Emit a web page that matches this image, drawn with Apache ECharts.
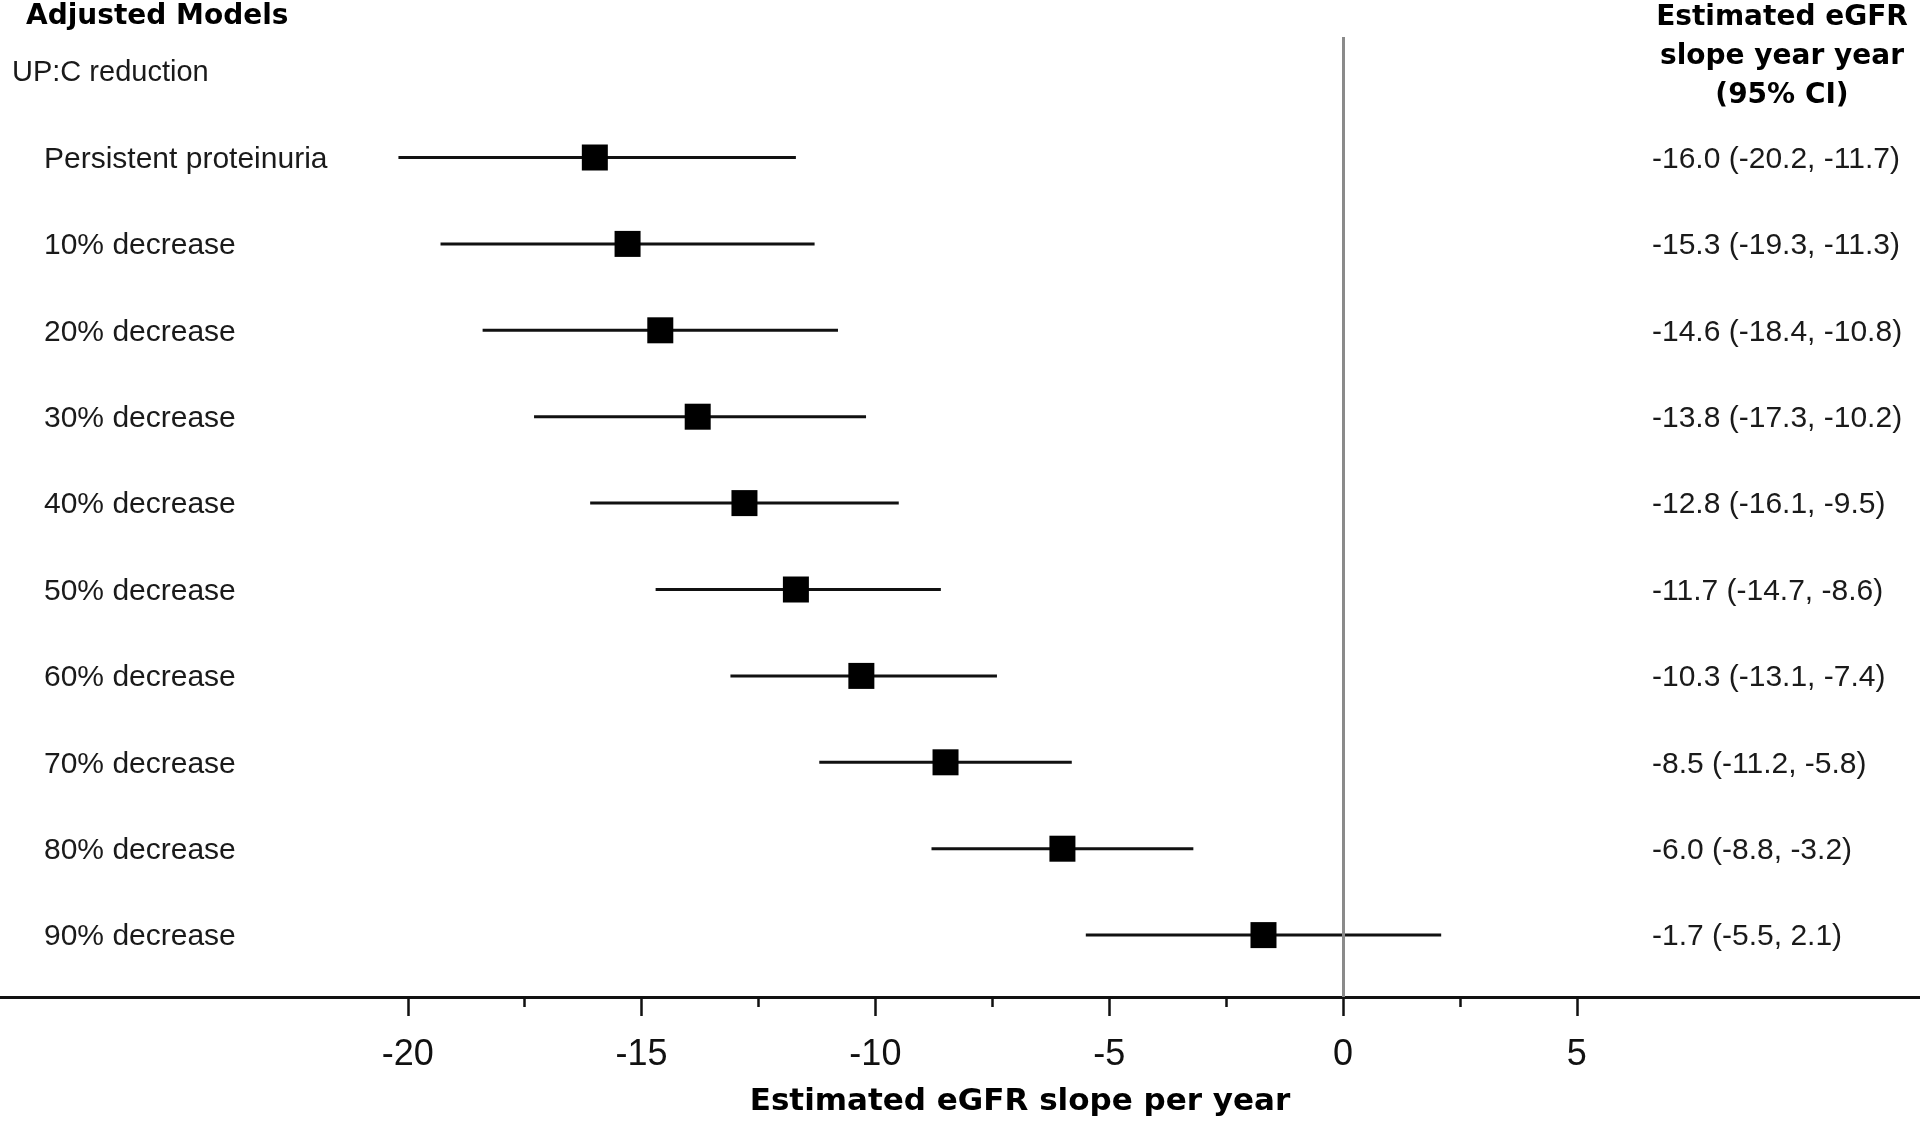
<!DOCTYPE html>
<html>
<head>
<meta charset="utf-8">
<script src="https://cdn.jsdelivr.net/npm/echarts@6/dist/echarts.min.js"></script>
<style>
html,body{margin:0;padding:0;background:#fff;}
#chart{width:1920px;height:1122px;}
</style>
</head>
<body>
<div id="chart"></div>
<script>
// ---- data ----
var categories = ['Persistent proteinuria','10% decrease','20% decrease','30% decrease','40% decrease','50% decrease','60% decrease','70% decrease','80% decrease','90% decrease'];
var estimate = [-16.0,-15.3,-14.6,-13.8,-12.8,-11.7,-10.3,-8.5,-6.0,-1.7];
var lower    = [-20.2,-19.3,-18.4,-17.3,-16.1,-14.7,-13.1,-11.2,-8.8,-5.5];
var upper    = [-11.7,-11.3,-10.8,-10.2,-9.5,-8.6,-7.4,-5.8,-3.2,2.1];
var majorTicks = [-20,-15,-10,-5,0,5];
var minorTicks = [-17.5,-12.5,-7.5,-2.5,2.5];

var REG = "'Liberation Sans', Arial, sans-serif";
var BOLD = "'DejaVu Sans', sans-serif";

function fmt(v){ return v.toFixed(1); }

var ciData = categories.map(function(c,i){ return [lower[i], upper[i], i]; });
var ptData = categories.map(function(c,i){ return [estimate[i], i]; });
var txtData = categories.map(function(c,i){ return [estimate[i], i]; });

var chart = echarts.init(document.getElementById('chart'), null, {renderer:'canvas'});
var option = {
  backgroundColor:'#fff',
  animation:false,
  grid:{left:0, right:0, top:37, bottom:125, containLabel:false},
  xAxis:[{
    type:'value', min:-28.721, max:12.34, position:'bottom',
    splitLine:{show:false},
    axisLine:{show:true, onZero:false, lineStyle:{color:'#111', width:3}},
    axisTick:{show:true, customValues:majorTicks, length:19, lineStyle:{color:'#111', width:2.5}},
    axisLabel:{show:true, customValues:majorTicks, margin:40, fontSize:36, color:'#111', fontFamily:REG}
  },{
    type:'value', min:-28.721, max:12.34, position:'bottom', gridIndex:0,
    splitLine:{show:false},
    axisLine:{show:false, onZero:false},
    axisTick:{show:true, customValues:minorTicks, length:10, lineStyle:{color:'#111', width:2.5}},
    axisLabel:{show:false}
  }],
  yAxis:{type:'value', inverse:true, min:-1.3947, max:9.7164, show:false, splitLine:{show:false}},
  graphic:[
    {type:'text', left:26, top:3, style:{text:'Adjusted Models', font:'bold 28px '+BOLD, fill:'#000'}},
    {type:'text', x:12, y:73, style:{text:'UP:C reduction', font:'29px '+REG, fill:'#1a1a1a', verticalAlign:'middle', align:'left'}},
    {type:'text', x:1782, y:17.5, style:{text:'Estimated eGFR', font:'bold 28px '+BOLD, fill:'#000', align:'center', verticalAlign:'middle'}},
    {type:'text', x:1782, y:57, style:{text:'slope year year', font:'bold 28px '+BOLD, fill:'#000', align:'center', verticalAlign:'middle'}},
    {type:'text', x:1782, y:96, style:{text:'(95% CI)', font:'bold 28px '+BOLD, fill:'#000', align:'center', verticalAlign:'middle'}},
    {type:'text', x:1020, y:1102, style:{text:'Estimated eGFR slope per year', font:'bold 31px '+BOLD, fill:'#000', align:'center', verticalAlign:'middle'}}
  ],
  series:[
    {
      type:'custom', name:'CI', data:ciData, z:2,
      renderItem:function(params, api){
        var a = api.coord([api.value(0), api.value(2)]);
        var b = api.coord([api.value(1), api.value(2)]);
        return {type:'line', shape:{x1:a[0], y1:a[1], x2:b[0], y2:b[1]}, style:{stroke:'#111', lineWidth:3}};
      },
      markLine:{
        silent:true, symbol:'none', animation:false,
        label:{show:false},
        lineStyle:{color:'#8a8a8a', width:3, type:'solid'},
        data:[{xAxis:0}]
      }
    },
    {
      type:'scatter', name:'Estimate', data:ptData, symbol:'rect', symbolSize:26, z:4,
      itemStyle:{color:'#000', opacity:1}
    },
    {
      type:'custom', name:'labels', data:txtData, z:5, silent:true,
      renderItem:function(params, api){
        var i = params.dataIndex;
        var p = api.coord([api.value(0), api.value(1)]);
        return {type:'group', children:[
          {type:'text', x:44, y:p[1] + 2, style:{text:categories[i], font:'30px '+REG, fill:'#1a1a1a', align:'left', verticalAlign:'middle'}},
          {type:'text', x:1652, y:p[1] + 2, style:{text:fmt(estimate[i])+' ('+fmt(lower[i])+', '+fmt(upper[i])+')', font:'30px '+REG, fill:'#1a1a1a', align:'left', verticalAlign:'middle'}}
        ]};
      }
    }
  ]
};
chart.setOption(option);
</script>
</body>
</html>
